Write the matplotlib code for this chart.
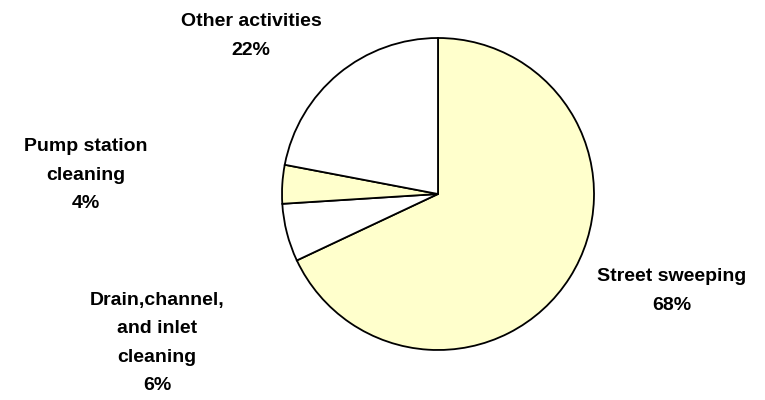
import matplotlib
matplotlib.use("Agg")
import matplotlib.pyplot as plt

# Share of activity, percent
categories = ["Street sweeping", "Drain,channel,\nand inlet\ncleaning",
              "Pump station\ncleaning", "Other activities"]
shares = [68, 6, 4, 22]
colors = ["#FFFFCC", "#FFFFFF", "#FFFFCC", "#FFFFFF"]

# Label anchor (pixel coords, origin top-left)
label_pos = [(672, 291), (157, 343), (86, 175), (251, 36)]

W, H = 765, 400
fig = plt.figure(figsize=(W / 100, H / 100), dpi=100)
ax = fig.add_axes([0, 0, 1, 1])

ax.pie(shares, colors=colors, startangle=90, counterclock=False,
       center=(438, H - 194), radius=156, frame=True,
       wedgeprops=dict(edgecolor="black", linewidth=1.3))
ax.set_xlim(0, W)
ax.set_ylim(0, H)
ax.set_aspect("equal")
ax.axis("off")

for name, v, (x, y) in zip(categories, shares, label_pos):
    ax.text(x, H - y, f"{name}\n{v}%", ha="center", va="center",
            multialignment="center", fontsize=14, fontweight="bold",
            family=["Liberation Sans", "DejaVu Sans"], linespacing=1.85)

fig.savefig("out.png", dpi=100, facecolor="white")
